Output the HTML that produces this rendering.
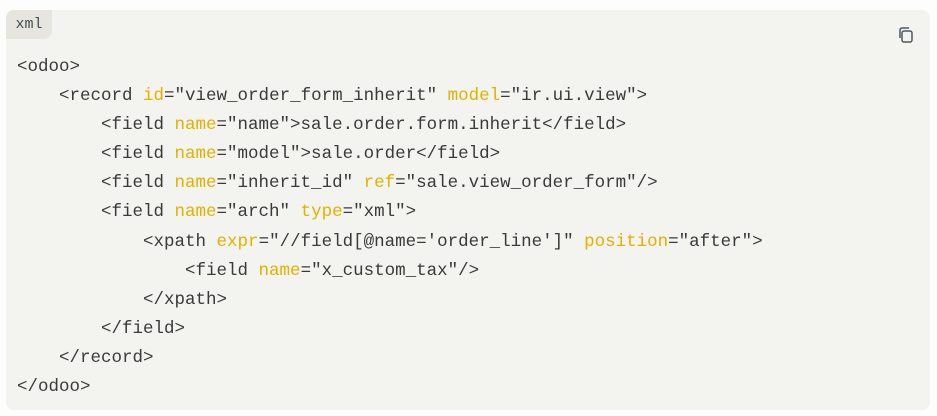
<!DOCTYPE html>
<html><head><style>
html,body{margin:0;padding:0;background:#fdfdfb;width:937px;height:416px;overflow:hidden}
.box{position:absolute;left:6px;top:10px;width:924px;height:400px;background:#f3f3ef;border-radius:8px}
.tab{position:absolute;left:6px;top:10px;width:46px;height:29px;background:#e6e6df;border-radius:8px 0 8px 0;font:15px "Liberation Mono",monospace;color:#3f4f55;line-height:29px;text-align:center}
pre{position:absolute;left:17px;top:53px;margin:0;font:17.5px "Liberation Mono",monospace;line-height:29.1px;color:#3a3a3a}
.a{color:#e2b100}
</style></head><body>
<div class="box"></div>
<div class="tab">xml</div>
<svg style="position:absolute;left:897px;top:26px" width="18" height="18" viewBox="0 0 18 18" fill="none" stroke="#4a5a60" stroke-width="1.5"><rect x="5" y="5" width="10" height="11" rx="2"/><path d="M3 12V4a2 2 0 0 1 2-2h7"/></svg>
<pre>&lt;odoo&gt;
    &lt;record <span class="a">id</span>="view_order_form_inherit" <span class="a">model</span>="ir.ui.view"&gt;
        &lt;field <span class="a">name</span>="name"&gt;sale.order.form.inherit&lt;/field&gt;
        &lt;field <span class="a">name</span>="model"&gt;sale.order&lt;/field&gt;
        &lt;field <span class="a">name</span>="inherit_id" <span class="a">ref</span>="sale.view_order_form"/&gt;
        &lt;field <span class="a">name</span>="arch" <span class="a">type</span>="xml"&gt;
            &lt;xpath <span class="a">expr</span>="//field[@name='order_line']" <span class="a">position</span>="after"&gt;
                &lt;field <span class="a">name</span>="x_custom_tax"/&gt;
            &lt;/xpath&gt;
        &lt;/field&gt;
    &lt;/record&gt;
&lt;/odoo&gt;</pre>
</body></html>
